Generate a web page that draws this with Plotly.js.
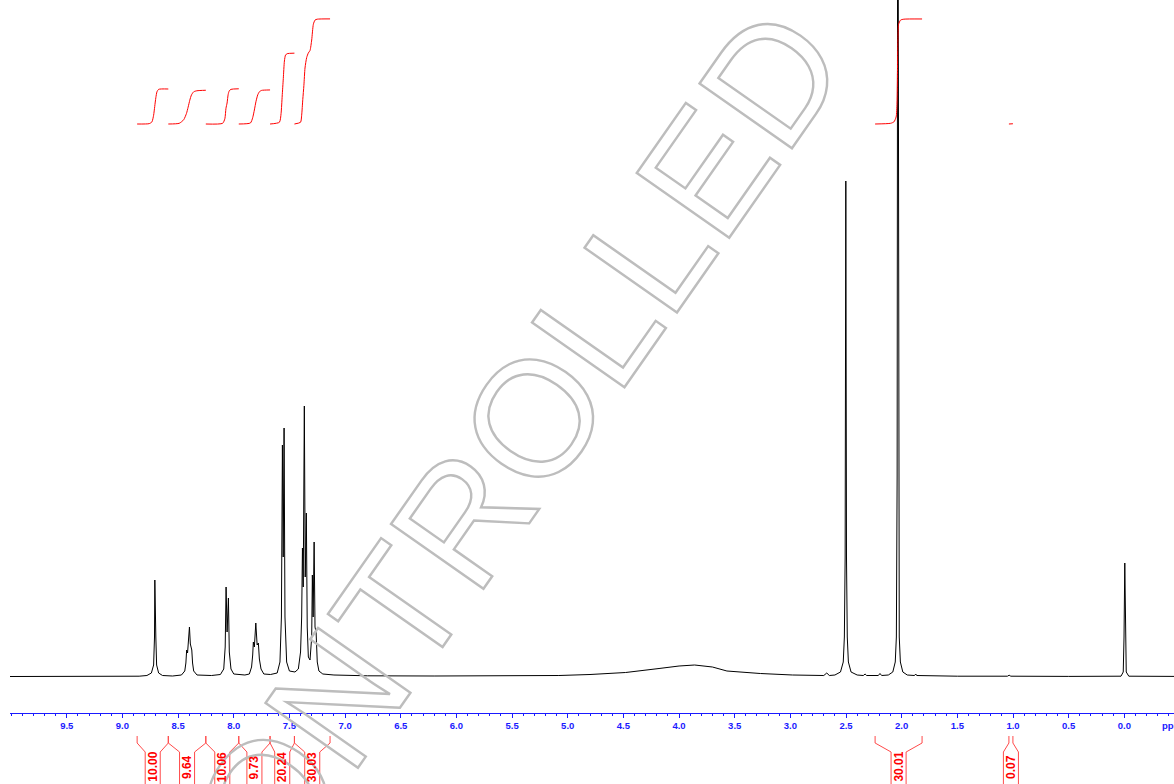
<!DOCTYPE html>
<html>
<head>
<meta charset="utf-8">
<script src="https://cdn.plot.ly/plotly-3.0.1.min.js"></script>
<style>
  html, body { margin: 0; padding: 0; background: #fff; }
  #chart { width: 1174px; height: 784px; }
  g.annotation[data-index="0"] text.annotation-text {
    fill: none !important;
    stroke: #bdbdbd !important;
    stroke-width: 2.4px !important;
  }
</style>
</head>
<body>
<div id="chart"></div>
<script>
// ---- spectrum (chemical shift in ppm, intensity) ----
const ppm = [
  10.01, 9.5, 9.0, 8.85, 8.78, 8.74, 8.72, 8.712, 8.709, 8.706, 8.703, 8.700, 8.693, 8.675, 8.64, 8.55,
  8.47, 8.44, 8.43, 8.423, 8.415, 8.405, 8.398, 8.39, 8.383, 8.377, 8.37, 8.36, 8.33, 8.2,
  8.12, 8.09, 8.077, 8.069, 8.06, 8.048, 8.04, 8.025, 8.0, 7.9,
  7.86, 7.84, 7.83, 7.824, 7.815, 7.802, 7.79, 7.779, 7.77, 7.755, 7.73, 7.67,
  7.61, 7.585, 7.572, 7.563, 7.556, 7.548, 7.54, 7.525, 7.50, 7.45,
  7.42, 7.40, 7.39, 7.383, 7.376, 7.366, 7.358, 7.348, 7.34, 7.33, 7.315,
  7.30, 7.294, 7.287, 7.278, 7.27, 7.26, 7.25, 7.235, 7.2, 7.1, 6.8, 6.2, 5.5, 5.08, 4.8, 4.48, 4.18, 4.0, 3.86, 3.7, 3.57, 3.27, 2.98, 2.8,
  2.70, 2.673, 2.65, 2.60, 2.55, 2.525, 2.515, 2.508, 2.502, 2.496, 2.489, 2.479, 2.455, 2.40,
  2.345, 2.329, 2.315, 2.21, 2.195, 2.18, 2.12, 2.08, 2.058, 2.048, 2.041, 2.035, 2.029, 2.022, 2.012, 1.99, 1.95,
  1.885, 1.874, 1.865, 1.5, 1.05, 1.035, 1.02, 0.5, 0.03, 0.01, 0.003, -0.004, -0.01, -0.017, -0.04, -0.446
];
const intensity = [
  0.5, 0.5, 0.6, 0.8, 1.5, 4, 12, 40, 97, 60, 95, 40, 12, 4, 1.5, 1,
  2, 6, 14, 27, 24, 42, 50, 33, 30, 27, 14, 6, 2, 1.5,
  2.5, 8, 30, 90, 45, 79, 25, 8, 3, 2,
  3, 10, 22, 35, 30, 54, 32, 34, 18, 8, 3, 2.5,
  4, 15, 60, 232, 120, 249, 60, 15, 6, 5,
  8, 25, 60, 129, 90, 271, 100, 164, 50, 20, 17,
  40, 102, 60, 135, 50, 44, 15, 6, 3, 2, 1.2, 1, 1.2, 1.5, 2.5, 4.5, 8.5, 11, 12, 10, 6, 3.5, 2, 1.5,
  1.5, 4, 1.5, 2, 5, 15, 40, 120, 496, 120, 40, 15, 5, 2,
  1.5, 3, 1.5, 1.5, 3.5, 1.5, 2, 5, 15, 40, 200, 1000, 200, 40, 15, 5, 2,
  1.5, 3, 1.5, 0.8, 0.8, 1.8, 0.8, 0.6, 0.8, 5, 40, 114, 40, 5, 0.8, 0.6
];

// ---- integrals ----
const intLabels = ['10.00', '9.64', '10.06', '9.73', '20.24', '30.03', '30.01', '0.07'];
const intStart  = [8.868, 8.588, 8.251, 7.955, 7.674, 7.455, 2.239, 1.037];
const intEnd    = [8.588, 8.251, 7.955, 7.674, 7.455, 7.135, 1.817, 1.001];
const intCurvePpm = [
  [8.868, 8.76, 8.735, 8.72, 8.71, 8.70, 8.69, 8.675, 8.588],
  [8.588, 8.49, 8.45, 8.425, 8.41, 8.395, 8.38, 8.36, 8.33, 8.251],
  [8.251, 8.10, 8.08, 8.07, 8.06, 8.05, 8.04, 8.025, 7.955],
  [7.955, 7.85, 7.83, 7.815, 7.80, 7.785, 7.77, 7.75, 7.674],
  [7.674, 7.59, 7.575, 7.565, 7.555, 7.545, 7.535, 7.52, 7.455],
  [7.455, 7.40, 7.39, 7.38, 7.37, 7.36, 7.345, 7.33, 7.315, 7.30, 7.285, 7.27, 7.25, 7.135],
  [2.239, 2.10, 2.07, 2.05, 2.042, 2.038, 2.034, 2.028, 2.01, 1.98, 1.817],
  [1.037, 1.001]
];
const intCurveVal = [
  [0, 0.1, 0.6, 2.5, 5, 7.5, 9.2, 9.9, 10.0],
  [0, 0.2, 1.2, 3, 4.8, 6.8, 8.3, 9.2, 9.5, 9.64],
  [0, 0.2, 1.5, 4.5, 6, 8.5, 9.5, 9.9, 10.06],
  [0, 0.3, 1.8, 4, 6.5, 8.3, 9.2, 9.6, 9.73],
  [0, 0.5, 3, 8, 13, 18, 19.7, 20.1, 20.24],
  [0, 0.5, 2.5, 7, 11, 16, 19, 20.3, 21, 24, 28.5, 29.7, 29.95, 30.03],
  [0, 0.2, 0.6, 2, 6, 15, 24, 28.5, 29.7, 29.95, 30.01],
  [0, 0.07]
];

// ---- axis ticks ----
const tickVals = [9.5, 9.0, 8.5, 8.0, 7.5, 7.0, 6.5, 6.0, 5.5, 5.0, 4.5, 4.0, 3.5, 3.0, 2.5, 2.0, 1.5, 1.0, 0.5, 0.0];
const tickText = ['9.5', '9.0', '8.5', '8.0', '7.5', '7.0', '6.5', '6.0', '5.5', '5.0', '4.5', '4.0', '3.5', '3.0', '2.5', '2.0', '1.5', '1.0', '0.5', '0.0'];

const BLUE = '#1a1aff';
const RED = '#ff0000';
const BRACKET = '#ff4a4a';

const traces = [{
  x: ppm, y: intensity, type: 'scatter', mode: 'lines',
  line: { color: '#000000', width: 1 },
  hoverinfo: 'skip', showlegend: false
}];
intCurvePpm.forEach((xs, i) => {
  traces.push({
    x: xs, y: intCurveVal[i], type: 'scatter', mode: 'lines', yaxis: 'y2',
    line: { color: RED, width: 1, shape: 'spline', smoothing: 0.6 },
    hoverinfo: 'skip', showlegend: false
  });
});

// brackets below the axis
const PH = 713; // plot height in px (for paper offsets)
const py = px => (PH - px) / PH;
const d = 0.0675;
const shapes = [];
intStart.forEach((s, i) => {
  const e = intEnd[i];
  const c = (s + e) / 2;
  shapes.push({
    type: 'path', xref: 'x', yref: 'paper',
    path: `M ${s},${py(736)} L ${s},${py(743)} L ${c + d},${py(752)} L ${c + d},${py(790)}`,
    line: { color: BRACKET, width: 1 }
  });
  shapes.push({
    type: 'path', xref: 'x', yref: 'paper',
    path: `M ${e},${py(736)} L ${e},${py(743)} L ${c - d},${py(752)} L ${c - d},${py(790)}`,
    line: { color: BRACKET, width: 1 }
  });
});

const annotations = [{
  text: 'CONTROLLED COPY', xref: 'paper', yref: 'paper',
  x: (630 - 10) / 1164, y: py(280), xanchor: 'center', yanchor: 'middle',
  showarrow: false, textangle: -55,
  font: { family: 'Liberation Sans, Arial, sans-serif', size: 164, color: '#bdbdbd' }
}];
intLabels.forEach((t, i) => {
  annotations.push({
    text: t, xref: 'x', yref: 'paper',
    x: (intStart[i] + intEnd[i]) / 2, y: py(767),
    xanchor: 'center', yanchor: 'middle', showarrow: false, textangle: -90,
    font: { family: 'Liberation Sans, Arial, sans-serif', size: 12, color: RED, weight: 'bold' }
  });
});
annotations.push({
  text: 'ppm', xref: 'paper', yref: 'paper', x: (1160 - 10) / 1164, y: py(726),
  xanchor: 'left', yanchor: 'middle', showarrow: false,
  font: { family: 'Liberation Sans, Arial, sans-serif', size: 9.5, color: BLUE, weight: 'bold' }
});

const layout = {
  width: 1174, height: 784,
  margin: { l: 10, r: 0, t: 0, b: 71, pad: 0 },
  paper_bgcolor: '#ffffff', plot_bgcolor: '#ffffff',
  showlegend: false,
  xaxis: {
    range: [10.01, -0.446], showgrid: false, zeroline: false,
    showline: true, linecolor: BLUE, linewidth: 1,
    ticks: 'outside', ticklen: 4, tickwidth: 1, tickcolor: BLUE,
    tickmode: 'array', tickvals: tickVals, ticktext: tickText,
    tickfont: { family: 'Liberation Sans, Arial, sans-serif', size: 9.5, color: BLUE, weight: 'bold' },
    minor: { dtick: 0.1, tick0: 0, ticks: 'outside', ticklen: 2, tickcolor: BLUE, showgrid: false },
    fixedrange: true
  },
  yaxis: { range: [-36, 677], visible: false, fixedrange: true },
  yaxis2: { range: [-168.29, 35.43], overlaying: 'y', visible: false, fixedrange: true },
  shapes: shapes,
  annotations: annotations
};

Plotly.newPlot('chart', traces, layout, { staticPlot: true, displayModeBar: false });
</script>
</body>
</html>
